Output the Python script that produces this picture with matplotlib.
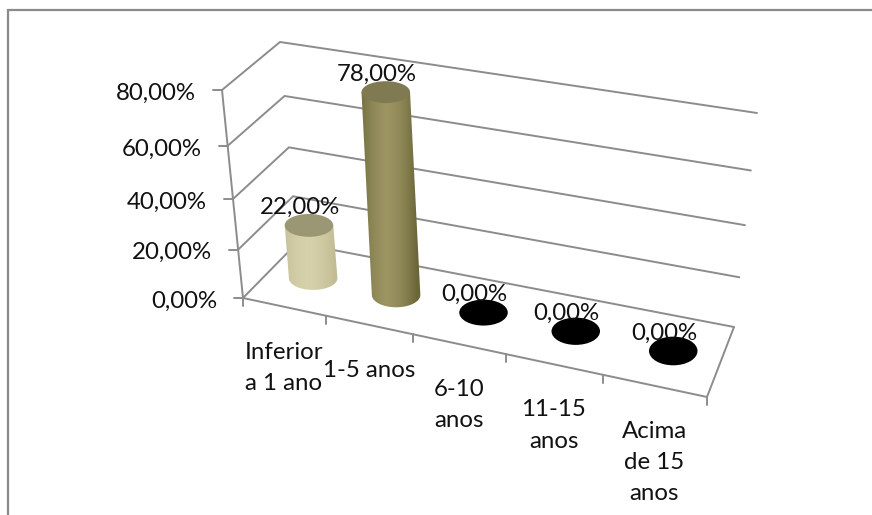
import numpy as np
import matplotlib
matplotlib.use("Agg")
import matplotlib.pyplot as plt
from matplotlib.patches import Ellipse, PathPatch
from matplotlib.path import Path

categories = ["Inferior\na 1 ano", "1-5 anos", "6-10\nanos", "11-15\nanos", "Acima\nde 15\nanos"]
values = [22.0, 78.0, 0.0, 0.0, 0.0]
value_ticks = [0, 20, 40, 60, 80]


def pct(v):
    return f"{v:.2f}".replace(".", ",") + "%"


plt.rcParams["font.family"] = ["Lato", "DejaVu Sans"]
FS = 17.3
GRID = "#8c8c8c"
TXT = "#111111"
BAR_W = 48.5

fig = plt.figure(figsize=(8.72, 5.15), dpi=100, facecolor="white")
ax = fig.add_axes([0, 0, 1, 1])


def homography(quad):
    """unit square (s, d) -> quad given as (0,0), (1,0), (1,1), (0,1)"""
    src = [(0, 0), (1, 0), (1, 1), (0, 1)]
    A, b = [], []
    for (s, t), (x, y) in zip(src, quad):
        A.append([s, t, 1, 0, 0, 0, -s * x, -t * x])
        A.append([0, 0, 0, s, t, 1, -s * y, -t * y])
        b += [x, y]
    h = np.linalg.solve(np.array(A, float), np.array(b, float))
    return np.append(h, 1).reshape(3, 3)


FLOOR = homography([(243, 298), (707, 397), (734, 327), (297, 243)])
CEIL = homography([(222, 90), (728, 176), (757, 113), (280, 42)])
N = len(categories)
VMAX = value_ticks[-1]


def apply(H, s, d):
    p = H @ np.array([s, d, 1.0])
    return p[:2] / p[2]


def pos(u, d, v):
    t = v / VMAX
    f = 0.908 * t / (1 - 0.092 * t)
    a, b = apply(FLOOR, u / N, d), apply(CEIL, u / N, d)
    return a + (b - a) * f


def line(*pts, lw=1.4, color=GRID):
    xs, ys = zip(*pts)
    ax.plot(xs, ys, color=color, lw=lw, solid_capstyle="round", solid_joinstyle="miter", zorder=1)


# figure frame (chart area clipped at right/bottom)
ax.plot([8, 8, 872], [515, 10, 10], color="#8a8a8a", lw=1.6, zorder=1, solid_joinstyle="miter")

# walls and floor
for v in value_ticks:
    line(pos(0, 0, v), pos(0, 1, v), pos(N, 1, v))
    p = pos(0, 0, v)
    line((p[0] - 9, p[1]), p)
    ax.text(p[0] - 26, p[1] + 3, pct(v), ha="right", va="center", fontsize=FS, color=TXT, zorder=5)
line(pos(0, 0, 0), pos(0, 0, VMAX))
line(pos(0, 0, 0), pos(N, 0, 0), pos(N, 1, 0))
for i in range(N + 1):
    p = pos(i, 0, 0)
    line(p, (p[0], p[1] + 8))

# category labels
for i, c in enumerate(categories):
    p = pos(i + 0.5, 0, 0)
    ax.text(p[0], p[1] + 35, c, ha="center", va="top", fontsize=FS, color=TXT,
            linespacing=1.6, zorder=5)

STYLES = {
    0: dict(edge=(0.76, 0.74, 0.58), mid=(0.84, 0.82, 0.67), top="#9b9775"),
    1: dict(edge=(0.42, 0.40, 0.23), mid=(0.61, 0.58, 0.38), top="#7f7a52"),
}


def ell_size(u, v=0):
    c = pos(u, 0.5, v)
    h = abs(pos(u, 0.71, v)[1] - pos(u, 0.29, v)[1])
    return c, BAR_W, h


for i, v in enumerate(values):
    u = i + 0.53
    c0, w0, h0 = ell_size(u)
    if v <= 0:
        ax.add_patch(Ellipse(c0, w0, h0, fc="black", ec="none", zorder=3))
        top = c0
    else:
        c1, w1, h1 = ell_size(u, v)
        st = STYLES[i]
        th = np.linspace(np.pi, 0, 40)
        lower = np.c_[c0[0] + w0 / 2 * np.cos(th), c0[1] + h0 / 2 * np.sin(th)]
        poly = np.vstack([[c1[0] - w1 / 2, c1[1]], lower, [c1[0] + w1 / 2, c1[1]], [c1[0] - w1 / 2, c1[1]]])
        patch = PathPatch(Path(poly), fc="none", ec="none", transform=ax.transData)
        ax.add_patch(patch)
        x0 = min(poly[:, 0]) - 1
        x1 = max(poly[:, 0]) + 1
        s = np.linspace(-1, 1, 80)
        k = (1 - np.abs(s + 0.15) ** 1.6)[:, None].clip(0, 1)
        img = (np.array(st["edge"]) * (1 - k) + np.array(st["mid"]) * k)[None, :, :]
        im = ax.imshow(img, extent=[x0, x1, c0[1] + h0, c1[1] - h1], aspect="auto", zorder=3)
        im.set_clip_path(patch)
        ax.add_patch(Ellipse(c1, w1, h1, fc=st["top"], ec="none", zorder=4))
        top = c1
    ax.text(top[0] - 9, top[1] - 18, pct(v), ha="center", va="center", fontsize=FS, color=TXT, zorder=6)

ax.set_xlim(0, 872)
ax.set_ylim(515, 0)
ax.axis("off")
fig.savefig("out.png", dpi=100, facecolor="white")
